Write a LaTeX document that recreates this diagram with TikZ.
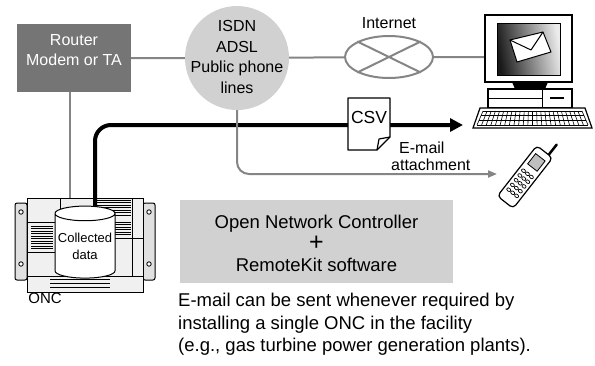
\documentclass[tikz,border=0pt]{standalone}
\usepackage{fontspec}
\setmainfont{Liberation Sans}
\usetikzlibrary{arrows.meta,shapes.geometric,calc}

\definecolor{routergray}{gray}{0.46}
\definecolor{panelgray}{gray}{0.82}
\definecolor{wiregray}{gray}{0.52}

\begin{document}
\begin{tikzpicture}[x=1pt,y=-1pt,
    wire/.style={wiregray,line width=2pt},
    datapath/.style={line width=4pt,rounded corners=16pt,-{Triangle[length=13pt,width=13pt]}},
    mailpath/.style={wire,rounded corners=12pt,-{Triangle[length=9pt,width=7pt]}},
    txt/.style={align=center,inner sep=0pt,font=\fontsize{16}{20.5}\selectfont}]
  \useasboundingbox (0,0) rectangle (595,365);

  % router and line network
  \node[fill=routergray,minimum width=114pt,minimum height=68pt] (router) at (74,58) {};
  \node[txt,text=white] (routertext) at (74,50) {Router\\Modem or TA};
  \node[circle,fill=panelgray,minimum size=104pt,inner sep=0pt] (isdn) at (237,58) {};
  \node[txt] (isdntext) at (237,57) {ISDN\\ADSL\\Public phone\\lines};
  \node[ellipse,draw=wiregray,line width=2pt,minimum width=88pt,minimum height=42pt] (inet) at (389,57) {};
  \draw[wire] (inet.north west) -- (inet.south east) (inet.north east) -- (inet.south west);
  \node[txt] (inetlabel) at (389,23) {Internet};

  \coordinate (pcin) at (486,57);
  \coordinate (oncin) at (70,198);
  \draw[wire] (router) -- (isdn) (isdn) -- (inet) (inet) -- (pcin);
  \draw[wire] (router.south -| oncin) -- (oncin);

  % personal computer
  \draw[line width=1.3pt,fill=white] (485,15) rectangle (572,82);
  \shade[left color=black!90,right color=black!8,shading angle=100] (497,23) rectangle (560,75);
  \draw[line width=0.8pt] (497,23) rectangle (560,75);
  \draw[line width=1pt,fill=white,line join=round] (510,40) -- (543,32) -- (551,52) -- (517,62) -- cycle;
  \draw[line width=1pt,line join=round] (510,40) -- (531,50) -- (543,32);
  \fill (512,82) -- (548,82) -- (545,89) -- (515,89) -- cycle;
  \draw[line width=1.2pt,fill=white] (488,89) rectangle (572,108);
  \draw (488,98) -- (542,98) (542,89) -- (542,108);
  \draw[line width=1.6pt] (550,98) -- (564,98);
  \draw[line width=1.2pt,fill=white] (480,108) -- (585,108) -- (592,128) -- (473,128) -- cycle;
  \foreach \y in {111,115.7,120.4,125} {
    \draw[line width=0.6pt] ($(483,111)!{(\y-111)/14}!(477,125)$) -- ($(582,111)!{(\y-111)/14}!(588,125)$);
  }
  \foreach \k in {0,...,24} {
    \draw[line width=0.6pt] ($(483,111)!{\k/24}!(582,111)$) -- ($(477,125)!{\k/24}!(588,125)$);
  }

  % mobile phone
  \begin{scope}[shift={(525,177)},rotate=-38]
    \draw[line width=2.5pt,line cap=round] (5,-30) -- (5,-45);
    \draw[line width=1.2pt,fill=white,rounded corners=4pt] (-10,-32) rectangle (10,32);
    \draw[line width=0.8pt,fill=black!25] (-6,-25) rectangle (6,-12);
    \foreach \u in {-5,0,5} {
      \foreach \v in {-4,2,8,14,20} {
        \draw[line width=0.7pt] (\u,\v) ellipse (2.2 and 1.6);
      }
    }
  \end{scope}

  % ONC unit
  \draw[line width=1pt,fill=black!12,rounded corners=2pt] (15,203) rectangle (27,280);
  \draw[line width=1pt,fill=black!12,rounded corners=2pt] (143,203) rectangle (155,280);
  \foreach \x in {21,149} {
    \foreach \y in {212,264} {
      \draw[line width=0.8pt,fill=white] (\x,\y) circle (2.2);
    }
  }
  \draw[line width=1pt,fill=black!6] (27,198) rectangle (143,292);
  \draw[line width=0.8pt] (60,198) -- (60,222) (27,222) -- (60,222) (27,252) -- (55,252)
    (132,198) -- (132,276) (115,238) -- (143,238) (27,276) -- (143,276);
  \foreach \y in {226,228.5,...,250} {
    \draw[line width=0.7pt] (31,\y) -- (53,\y);
  }
  \foreach \y in {200,202.5,...,216} {
    \draw[line width=0.7pt] (97,\y) -- (131,\y);
  }
  \foreach \y in {222,224.5,...,236} {
    \draw[line width=0.7pt] (115,\y) -- (131,\y);
  }
  \foreach \y in {279,283,287} {
    \draw[line width=0.7pt] (50,\y) -- (110,\y);
  }

  % data path to the PC and the mail path to the phone
  \coordinate (dbtop) at (95,218);
  \coordinate (pcdata) at (463,125);
  \coordinate (phonein) at (497,174);
  \draw[datapath] (dbtop) |- (pcdata);
  \draw[mailpath] (isdn.south) |- (phonein);

  \node[cylinder,shape border rotate=90,aspect=0.27,draw,line width=1pt,fill=white,
    minimum width=60pt,minimum height=72pt,txt,font=\fontsize{13}{17}\selectfont] (db) at (85,246) {Collected\\data};
  \node[font=\fontsize{15}{18}\selectfont,inner sep=0pt] (onclabel) at (45,298) {ONC};

  % CSV file
  \draw[line width=1.2pt,fill=white,line join=round] (348,98) -- (390,98) -- (390,137) -- (377,150) -- (348,150) -- cycle;
  \draw[line width=1.2pt,line join=round] (390,137) -- (379,139) -- (377,150);
  \node[txt,font=\fontsize{17.5}{20}\selectfont] (csv) at (369,117) {CSV};
  \node[anchor=north west,align=left,inner sep=0pt,font=\fontsize{16}{17}\selectfont] (mailnote) at (391,142) {\hspace*{8pt}E-mail\\attachment};

  % ONC with RemoteKit
  \node[fill=panelgray,minimum width=273pt,minimum height=83pt] (kit) at (316.5,241.5) {};
  \node[txt,font=\fontsize{18.5}{21.5}\selectfont] (kittext) at (316.5,243.5) {Open Network Controller\\{\fontsize{25}{21.5}\selectfont +}\\RemoteKit software};
  \node[anchor=north west,align=left,inner sep=0pt,font=\fontsize{18.5}{22.5}\selectfont] (note) at (178,293)
    {E-mail can be sent whenever required by\\installing a single ONC in the facility\\(e.g., gas turbine power generation plants).};
\end{tikzpicture}
\end{document}
